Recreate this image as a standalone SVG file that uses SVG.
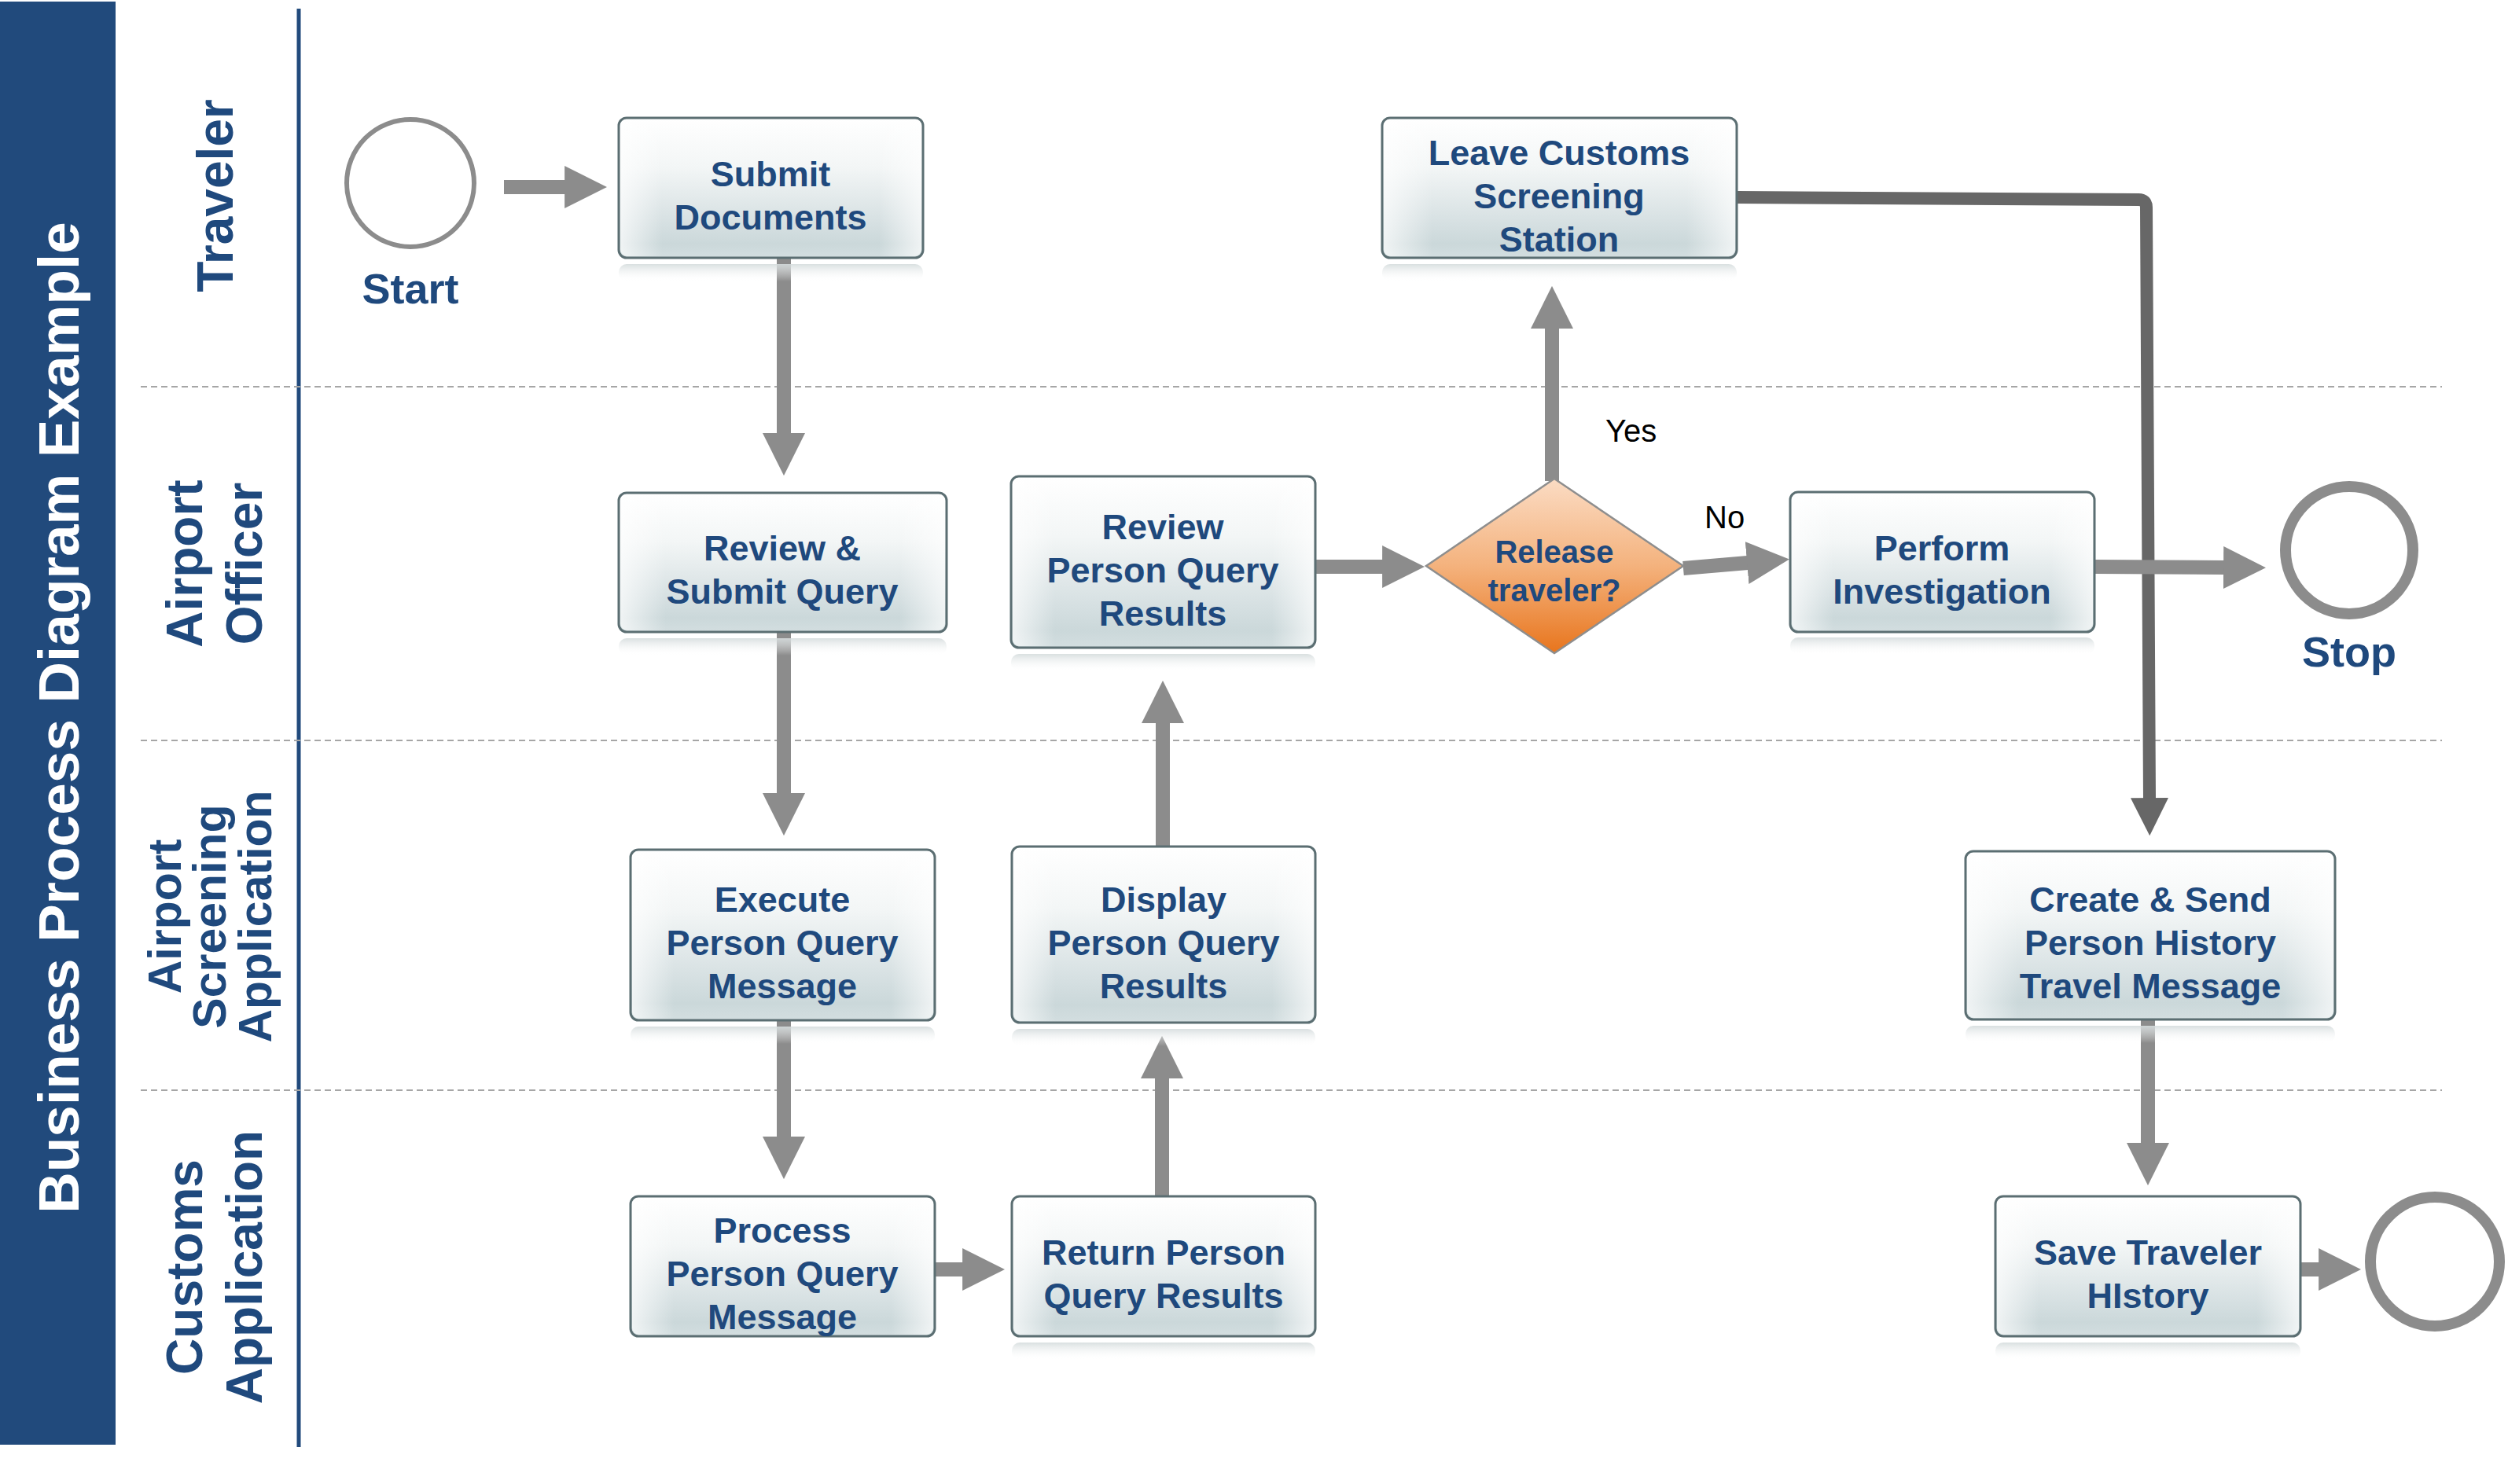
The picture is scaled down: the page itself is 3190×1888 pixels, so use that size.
<svg xmlns="http://www.w3.org/2000/svg" width="3190" height="1888" viewBox="0 0 3190 1888">
<defs>
<style>
.lane{font-family:'Liberation Sans',Arial,sans-serif;font-weight:bold;fill:#1f497d;text-anchor:middle}
.bt{font-family:'Liberation Sans',Arial,sans-serif;font-weight:bold;font-size:45px;fill:#1f497d;text-anchor:middle}
.dt{font-family:'Liberation Sans',Arial,sans-serif;font-weight:bold;font-size:40px;fill:#1f497d;text-anchor:middle}
.lbl{font-family:'Liberation Sans',Arial,sans-serif;font-size:40px;fill:#000}
.ev{font-family:'Liberation Sans',Arial,sans-serif;font-weight:bold;font-size:54px;fill:#1f497d;text-anchor:middle}
.box{fill:url(#boxg);stroke:#5b6e72;stroke-width:3}
.boxo{fill:url(#boxside);stroke:none}
.refl{fill:url(#reflg);stroke:none}
.sep{stroke:#a6a6a6;stroke-width:2;stroke-dasharray:8 5;fill:none}
.arr{stroke:#8c8c8c;stroke-width:18;fill:none;marker-end:url(#ah)}
.darr{stroke:#676767;stroke-width:16;fill:none;stroke-linejoin:round;marker-end:url(#ahd)}
.circ{fill:#fff;stroke:#8c8c8c}
</style>
<linearGradient id="boxg" x1="0" y1="0" x2="0" y2="1">
<stop offset="0" stop-color="#ffffff"/>
<stop offset="0.35" stop-color="#f3f6f6"/>
<stop offset="0.75" stop-color="#d6e0e2"/>
<stop offset="0.9" stop-color="#cbd8da"/>
<stop offset="1" stop-color="#d3dee0"/>
</linearGradient>
<linearGradient id="boxside" x1="0" y1="0" x2="1" y2="0">
<stop offset="0" stop-color="#ffffff" stop-opacity="0.7"/>
<stop offset="0.14" stop-color="#ffffff" stop-opacity="0"/>
<stop offset="0.86" stop-color="#ffffff" stop-opacity="0"/>
<stop offset="1" stop-color="#ffffff" stop-opacity="0.7"/>
</linearGradient>
<linearGradient id="reflg" x1="0" y1="0" x2="0" y2="1">
<stop offset="0" stop-color="#d5dcdd" stop-opacity="0.9"/>
<stop offset="1" stop-color="#ffffff" stop-opacity="0"/>
</linearGradient>
<linearGradient id="diag" x1="0" y1="0" x2="0" y2="1">
<stop offset="0" stop-color="#fbdcc4"/>
<stop offset="0.5" stop-color="#f4b27d"/>
<stop offset="1" stop-color="#e8751d"/>
</linearGradient>
<marker id="ah" viewBox="0 0 3 3" refX="0.05" refY="1.5" markerWidth="3" markerHeight="3" orient="auto" markerUnits="strokeWidth">
<path d="M0,0 L3,1.5 L0,3 z" fill="#8c8c8c"/>
</marker>
<marker id="ahd" viewBox="0 0 3 3" refX="0.05" refY="1.5" markerWidth="3" markerHeight="3.2" orient="auto" markerUnits="strokeWidth">
<path d="M0,0 L3,1.5 L0,3 z" fill="#676767"/>
</marker>
</defs>
<rect x="0" y="0" width="3190" height="1888" fill="#fff"/>

<g id="title">
<rect x="0" y="2" width="147" height="1836" fill="#214a7c"/>
<text x="100" y="913" transform="rotate(-90 100 913)" font-family="'Liberation Sans',Arial,sans-serif" font-weight="bold" font-size="73" fill="#fff" text-anchor="middle">Business Process Diagram Example</text>
</g>

<g id="lanes">
<line x1="380" y1="11" x2="380" y2="1841" stroke="#214a7c" stroke-width="5"/>
<line class="sep" x1="179" y1="492" x2="3106" y2="492"/>
<line class="sep" x1="179" y1="942" x2="3106" y2="942"/>
<line class="sep" x1="179" y1="1387" x2="3106" y2="1387"/>
<text class="lane" font-size="64" x="296" y="249" transform="rotate(-90 296 249)">Traveler</text>
<text class="lane" font-size="64" x="257" y="717" transform="rotate(-90 257 717)">Airport</text>
<text class="lane" font-size="64" x="333" y="717" transform="rotate(-90 333 717)">Officer</text>
<text class="lane" font-size="59" x="230" y="1166" transform="rotate(-90 230 1166)">Airport</text>
<text class="lane" font-size="59" x="287" y="1166" transform="rotate(-90 287 1166)">Screening</text>
<text class="lane" font-size="59" x="345" y="1166" transform="rotate(-90 345 1166)">Application</text>
<text class="lane" font-size="64" x="257" y="1612" transform="rotate(-90 257 1612)">Customs</text>
<text class="lane" font-size="64" x="333" y="1612" transform="rotate(-90 333 1612)">Application</text>
</g>

<g id="connectors">
<path class="darr" d="M2209,251 L2720,254 Q2730,254 2730,264 L2734,1016"/>
<line class="arr" x1="641" y1="238" x2="719" y2="238"/>
<line class="arr" x1="997" y1="328" x2="997" y2="552"/>
<line class="arr" x1="997" y1="804" x2="997" y2="1010"/>
<line class="arr" x1="997" y1="1298" x2="997" y2="1447"/>
<line class="arr" x1="1189" y1="1615" x2="1225" y2="1615"/>
<line class="arr" x1="1478" y1="1522" x2="1478" y2="1371"/>
<line class="arr" x1="1479" y1="1077" x2="1479" y2="919"/>
<line class="arr" x1="1672" y1="721" x2="1759" y2="721"/>
<line class="arr" x1="1974" y1="612" x2="1974" y2="417"/>
<line class="arr" x1="2141" y1="723" x2="2223" y2="716"/>
<line class="arr" x1="2664" y1="721" x2="2829" y2="722"/>
<line class="arr" x1="2732" y1="1297" x2="2732" y2="1455"/>
<line class="arr" x1="2926" y1="1615" x2="2950" y2="1615"/>
<text class="lbl" x="2042" y="562">Yes</text>
<text class="lbl" x="2168" y="672">No</text>
</g>

<g id="start">
<circle class="circ" cx="522" cy="233" r="81" stroke-width="6"/>
<text class="ev" x="522" y="386">Start</text>
</g>

<g id="stop">
<circle class="circ" cx="2988" cy="700" r="81" stroke-width="14"/>
<text class="ev" x="2988" y="848">Stop</text>
</g>

<g id="end">
<circle class="circ" cx="3097" cy="1605" r="82" stroke-width="14"/>
</g>

<g id="submit-documents">
<rect class="refl" x="787" y="336" width="387" height="22" rx="10"/>
<rect class="box" x="787" y="150" width="387" height="178" rx="10"/>
<rect class="boxo" x="789" y="152" width="383" height="174" rx="9"/>
<text class="bt" x="980" y="237">Submit</text>
<text class="bt" x="980" y="292">Documents</text>
</g>

<g id="leave-customs">
<rect class="refl" x="1758" y="336" width="451" height="22" rx="10"/>
<rect class="box" x="1758" y="150" width="451" height="178" rx="10"/>
<rect class="boxo" x="1760" y="152" width="447" height="174" rx="9"/>
<text class="bt" x="1983" y="210">Leave Customs</text>
<text class="bt" x="1983" y="265">Screening</text>
<text class="bt" x="1983" y="320">Station</text>
</g>

<g id="review-submit-query">
<rect class="refl" x="787" y="812" width="417" height="22" rx="10"/>
<rect class="box" x="787" y="627" width="417" height="177" rx="10"/>
<rect class="boxo" x="789" y="629" width="413" height="173" rx="9"/>
<text class="bt" x="995" y="713">Review &amp;</text>
<text class="bt" x="995" y="768">Submit Query</text>
</g>

<g id="review-person-query-results">
<rect class="refl" x="1286" y="832" width="387" height="22" rx="10"/>
<rect class="box" x="1286" y="606" width="387" height="218" rx="10"/>
<rect class="boxo" x="1288" y="608" width="383" height="214" rx="9"/>
<text class="bt" x="1479" y="686">Review</text>
<text class="bt" x="1479" y="741">Person Query</text>
<text class="bt" x="1479" y="796">Results</text>
</g>

<g id="release-traveler">
<polygon points="1977,609 2141,720 1977,831 1814,720" fill="url(#diag)" stroke="#8e8e8e" stroke-width="2.5"/>
<text class="dt" x="1977" y="716">Release</text>
<text class="dt" x="1977" y="765">traveler?</text>
</g>

<g id="perform-investigation">
<rect class="refl" x="2277" y="811" width="387" height="22" rx="10"/>
<rect class="box" x="2277" y="626" width="387" height="178" rx="10"/>
<rect class="boxo" x="2279" y="628" width="383" height="174" rx="9"/>
<text class="bt" x="2470" y="713">Perform</text>
<text class="bt" x="2470" y="768">Investigation</text>
</g>

<g id="execute-person-query-message">
<rect class="refl" x="802" y="1306" width="387" height="22" rx="10"/>
<rect class="box" x="802" y="1081" width="387" height="217" rx="10"/>
<rect class="boxo" x="804" y="1083" width="383" height="213" rx="9"/>
<text class="bt" x="995" y="1160">Execute</text>
<text class="bt" x="995" y="1215">Person Query</text>
<text class="bt" x="995" y="1270">Message</text>
</g>

<g id="display-person-query-results">
<rect class="refl" x="1287" y="1309" width="386" height="22" rx="10"/>
<rect class="box" x="1287" y="1077" width="386" height="224" rx="10"/>
<rect class="boxo" x="1289" y="1079" width="382" height="220" rx="9"/>
<text class="bt" x="1480" y="1160">Display</text>
<text class="bt" x="1480" y="1215">Person Query</text>
<text class="bt" x="1480" y="1270">Results</text>
</g>

<g id="process-person-query-message">
<rect class="box" x="802" y="1522" width="387" height="178" rx="10"/>
<rect class="boxo" x="804" y="1524" width="383" height="174" rx="9"/>
<text class="bt" x="995" y="1581">Process</text>
<text class="bt" x="995" y="1636">Person Query</text>
<text class="bt" x="995" y="1691">Message</text>
</g>

<g id="return-person-query-results">
<rect class="refl" x="1287" y="1708" width="386" height="22" rx="10"/>
<rect class="box" x="1287" y="1522" width="386" height="178" rx="10"/>
<rect class="boxo" x="1289" y="1524" width="382" height="174" rx="9"/>
<text class="bt" x="1480" y="1609">Return Person</text>
<text class="bt" x="1480" y="1664">Query Results</text>
</g>

<g id="create-send-person-history">
<rect class="refl" x="2500" y="1305" width="470" height="22" rx="10"/>
<rect class="box" x="2500" y="1083" width="470" height="214" rx="10"/>
<rect class="boxo" x="2502" y="1085" width="466" height="210" rx="9"/>
<text class="bt" x="2735" y="1160">Create &amp; Send</text>
<text class="bt" x="2735" y="1215">Person History</text>
<text class="bt" x="2735" y="1270">Travel Message</text>
</g>

<g id="save-traveler-history">
<rect class="refl" x="2538" y="1708" width="388" height="22" rx="10"/>
<rect class="box" x="2538" y="1522" width="388" height="178" rx="10"/>
<rect class="boxo" x="2540" y="1524" width="384" height="174" rx="9"/>
<text class="bt" x="2732" y="1609">Save Traveler</text>
<text class="bt" x="2732" y="1664">HIstory</text>
</g>
</svg>
